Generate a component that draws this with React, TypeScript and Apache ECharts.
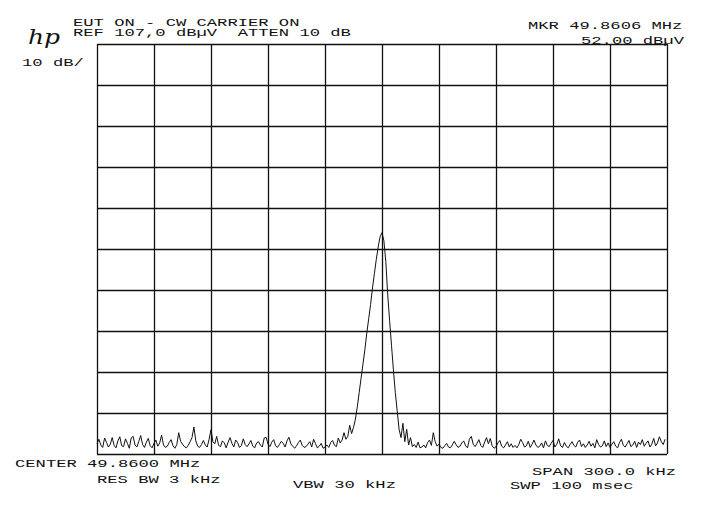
import React, { useEffect, useRef } from "react";
import * as echarts from "echarts";

// Spectrum analyser settings
const REF_LEVEL = 107; // dBµV, top graticule line
const START_KHZ = -150; // offset from centre frequency
const STEP_KHZ = 1;

// Trace levels in dBµV, one per kHz from -150 kHz to +150 kHz
const noiseLeft = [
  9.5, 10.6, 9.2, 8.6, 10.9, 9.8, 8.7, 9.4, 11.0, 9.1,
  8.5, 10.2, 11.2, 9.0, 8.8, 10.7, 9.6, 8.4, 10.9, 11.3,
  9.2, 8.7, 10.1, 11.5, 9.3, 8.6, 9.9, 10.8, 9.0, 8.5,
  9.6, 10.4, 8.9, 9.7, 11.6, 9.2, 8.6, 8.9, 9.8, 10.5,
  9.0, 8.4, 9.3, 12.2, 10.1, 9.4, 8.8, 8.5, 9.1, 10.0,
  11.0, 13.6, 10.2, 8.9, 8.6, 9.3, 10.3, 9.2, 8.7, 10.6,
  12.9, 10.0, 9.5, 11.3, 9.1, 8.8, 10.2, 9.7, 8.5, 9.9,
  11.0, 9.6, 8.7, 10.4, 9.8, 8.6, 9.1, 10.7, 9.3, 8.8,
  9.5, 10.3, 8.9, 8.5, 9.7, 10.0, 9.2, 8.7, 10.9, 11.1,
  9.4, 8.8, 9.9, 10.5, 9.0, 8.6, 9.3, 10.1, 9.6, 8.7,
  10.2, 11.1, 9.5, 8.9, 8.4, 9.0, 9.8, 10.4, 9.1, 8.6,
  8.8, 9.4, 10.0, 8.7, 10.6, 9.5, 8.5, 8.9, 9.6, 8.4,
  8.7, 9.2, 8.6, 9.8, 10.3, 9.1, 8.8, 10.9, 9.7, 10.4,
  12.2, 10.6, 11.3, 14.0,
];
const carrier = [
  12.0, 13.5, 15.5, 18.5, 22.0, 25.5, 29.0, 32.5, 36.5, 40.0, 43.5, 47.5,
  51.0, 54.5, 57.5, 60.0, 61.0, 59.0, 54.0, 46.0, 39.5, 33.5, 27.5, 22.0,
  17.5, 13.0, 11.0,
];
const noiseRight = [
  14.5, 10.0, 13.0, 9.2, 11.0, 8.8, 9.3, 8.6, 9.9, 8.5,
  8.7, 9.2, 8.5, 9.8, 10.4, 9.1, 12.2, 10.0, 8.9, 9.4,
  8.6, 8.4, 9.0, 9.6, 8.7, 8.5, 9.2, 10.1, 9.3, 8.6,
  8.9, 9.7, 10.2, 9.0, 8.5, 10.6, 11.3, 9.4, 8.8, 9.6,
  10.5, 9.1, 8.6, 9.9, 11.0, 9.5, 10.8, 9.0, 8.4, 8.8,
  9.7, 10.3, 8.9, 8.5, 9.2, 10.0, 8.7, 9.5, 8.6, 9.1,
  8.5, 9.3, 10.6, 9.8, 8.7, 9.0, 10.1, 8.6, 9.4, 10.4,
  9.2, 8.6, 8.9, 9.7, 8.5, 10.2, 9.1, 8.8, 9.6, 10.3,
  8.7, 9.4, 10.7, 9.0, 8.6, 9.8, 8.9, 8.5, 9.3, 10.0,
  9.1, 8.7, 9.9, 10.4, 8.8, 9.5, 8.6, 9.2, 10.1, 8.9,
  9.6, 8.5, 10.5, 9.3, 8.7, 9.0, 10.2, 8.8, 9.7, 8.6,
  9.4, 10.0, 8.9, 8.5, 9.8, 10.6, 9.1, 8.7, 9.5, 10.3,
  8.8, 9.2, 10.1, 8.6, 9.9, 9.3, 10.5, 8.9, 9.6, 10.2,
  8.7, 9.4, 10.8, 9.0, 9.7, 11.2, 10.0, 9.3, 10.6,
];

// Annotation texts
const headerLines = ["EUT ON - CW CARRIER ON", "REF 107,0 dBµV  ATTEN 10 dB"];
const markerLines = ["MKR 49.8606 MHz", "52.00 dBµV"];
const scaleLabel = "10 dB/";
const footerTexts = [
  "CENTER 49.8600 MHz",
  "RES BW 3 kHz",
  "VBW 30 kHz",
  "SPAN 300.0 kHz",
  "SWP 100 msec",
];

const FONT = '11px "Liberation Mono", "DejaVu Sans Mono", monospace';
const SX = 1.56;

function txt(text: string, x: number, y: number) {
  return {
    type: "text",
    x,
    y,
    scaleX: SX,
    silent: true,
    style: {
      text,
      x: 0,
      y: 0,
      font: FONT,
      fill: "#111",
      verticalAlign: "middle",
      align: "left",
    },
  };
}

export default function App() {
  const ref = useRef<HTMLDivElement>(null);
  useEffect(() => {
    if (!ref.current) return;
    const chart = echarts.init(ref.current, undefined, { renderer: "svg" });
    const levels = [...noiseLeft, ...carrier, ...noiseRight];
    const data = levels.map((v, i) => [START_KHZ + i * STEP_KHZ, v - REF_LEVEL]);
    const gridLine = { show: true, lineStyle: { color: "#111", width: 1.3 } };
    chart.setOption({
      animation: false,
      backgroundColor: "#fff",
      grid: { left: 97, right: 37, top: 44, bottom: 52 },
      xAxis: {
        type: "value",
        min: -150,
        max: 150,
        interval: 30,
        axisLine: { show: false },
        axisTick: { show: false },
        axisLabel: { show: false },
        splitLine: gridLine,
      },
      yAxis: {
        type: "value",
        min: -100,
        max: 0,
        interval: 10,
        axisLine: { show: false },
        axisTick: { show: false },
        axisLabel: { show: false },
        splitLine: gridLine,
      },
      series: [
        {
          type: "line",
          data,
          symbol: "none",
          lineStyle: { color: "#111", width: 1 },
        },
      ],
      graphic: [
        txt(headerLines[0], 73, 22.5),
        txt(headerLines[1], 73, 33),
        txt(scaleLabel, 22, 62.5),
        txt(markerLines[0], 528, 25.5),
        txt(markerLines[1], 581, 41),
        txt(footerTexts[0], 15, 464),
        txt(footerTexts[1], 97, 480),
        txt(footerTexts[2], 293, 485),
        txt(footerTexts[3], 532, 472),
        txt(footerTexts[4], 510, 485.5),
        {
          type: "text",
          x: 28,
          y: 37,
          scaleX: 1.25,
          silent: true,
          style: {
            text: "hp",
            x: 0,
            y: 0,
            font: 'italic 20px "DejaVu Serif", serif',
            fill: "#111",
            verticalAlign: "middle",
            align: "left",
          },
        },
      ],
    });
    return () => chart.dispose();
  }, []);
  return (
    <div
      ref={ref}
      style={{ position: "absolute", left: 0, top: 0, width: 704, height: 506, background: "#fff" }}
    />
  );
}
